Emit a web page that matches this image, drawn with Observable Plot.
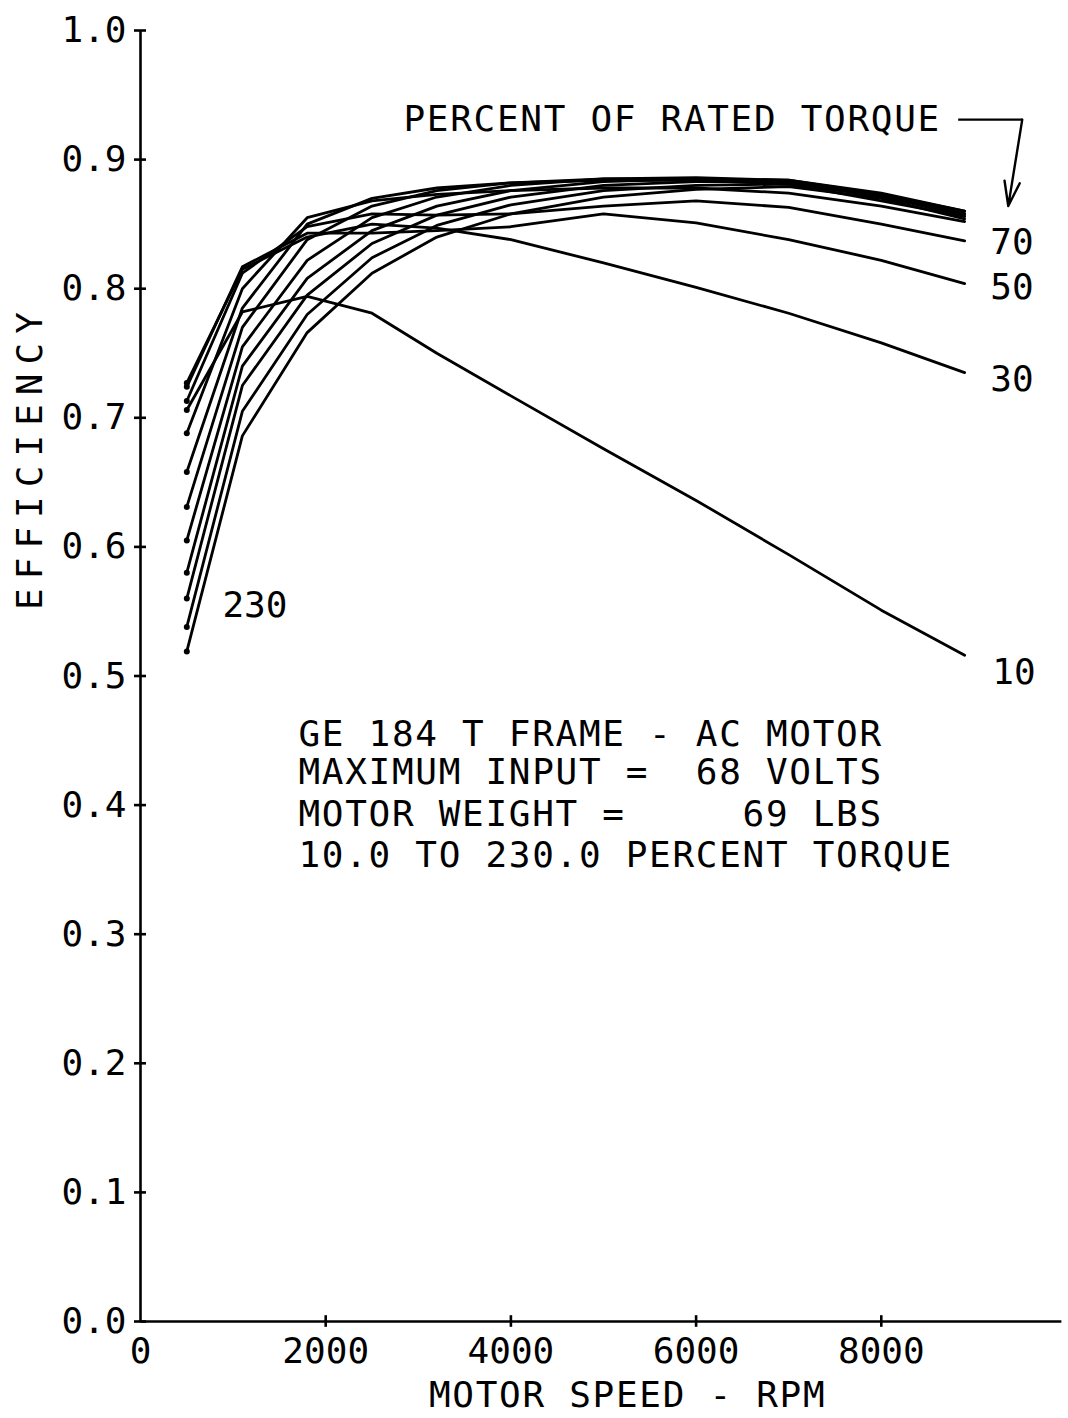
<!DOCTYPE html>
<html>
<head>
<meta charset="utf-8">
<script src="https://cdn.jsdelivr.net/npm/d3@7"></script>
<script src="https://cdn.jsdelivr.net/npm/@observablehq/plot@0.6"></script>
<style>
  html, body { margin: 0; padding: 0; background: #fff; }
  svg text { white-space: pre; }
  g[aria-description="spaced"] text { letter-spacing: 1.7px; }
  g[aria-description="ytitle"] text { letter-spacing: 9px; }
</style>
</head>
<body>
<div id="chart"></div>
<script>
// ---- data ----
const speeds = [500, 1100, 1800, 2500, 3200, 4000, 5000, 6000, 7000, 8000, 8900];
const torques = [10, 30, 50, 70, 90, 110, 130, 150, 170, 190, 210, 230];
const eff10  = [0.706, 0.782, 0.794, 0.781, 0.750, 0.717, 0.676, 0.636, 0.594, 0.551, 0.516];
const eff30  = [0.727, 0.815, 0.840, 0.850, 0.847, 0.838, 0.820, 0.801, 0.781, 0.758, 0.735];
const eff50  = [0.724, 0.817, 0.843, 0.843, 0.845, 0.848, 0.858, 0.851, 0.838, 0.822, 0.804];
const eff70  = [0.713, 0.812, 0.848, 0.858, 0.857, 0.858, 0.864, 0.868, 0.863, 0.850, 0.837];
const eff90  = [0.688, 0.800, 0.855, 0.868, 0.873, 0.876, 0.878, 0.878, 0.874, 0.864, 0.852];
const eff110 = [0.658, 0.785, 0.850, 0.870, 0.878, 0.882, 0.884, 0.884, 0.881, 0.868, 0.856];
const eff130 = [0.631, 0.770, 0.838, 0.864, 0.876, 0.882, 0.885, 0.885, 0.883, 0.871, 0.858];
const eff150 = [0.605, 0.755, 0.822, 0.855, 0.871, 0.880, 0.885, 0.886, 0.884, 0.873, 0.860];
const eff170 = [0.580, 0.740, 0.808, 0.845, 0.864, 0.876, 0.883, 0.885, 0.884, 0.874, 0.860];
const eff190 = [0.560, 0.725, 0.795, 0.835, 0.857, 0.871, 0.880, 0.883, 0.883, 0.873, 0.858];
const eff210 = [0.538, 0.705, 0.780, 0.824, 0.849, 0.865, 0.876, 0.880, 0.881, 0.872, 0.856];
const eff230 = [0.519, 0.686, 0.766, 0.812, 0.840, 0.858, 0.871, 0.877, 0.879, 0.870, 0.854];
const effSeries = [eff10, eff30, eff50, eff70, eff90, eff110, eff130, eff150, eff170, eff190, eff210, eff230];

const xTicks = [0, 2000, 4000, 6000, 8000];
const xTickLabels = ["0", "2000", "4000", "6000", "8000"];
const yTicks = [0, 0.1, 0.2, 0.3, 0.4, 0.5, 0.6, 0.7, 0.8, 0.9, 1.0];
const yTickLabels = ["0.0", "0.1", "0.2", "0.3", "0.4", "0.5", "0.6", "0.7", "0.8", "0.9", "1.0"];

const curveLabels = ["70", "50", "30", "10"];
const curveLabelX = [9177, 9177, 9177, 9198];
const curveLabelY = [0.836, 0.801, 0.730, 0.503];
const lowLabel = "230";
const lowLabelPos = [885, 0.555];

const infoLines = [
  "GE 184 T FRAME - AC MOTOR",
  "MAXIMUM INPUT =  68 VOLTS",
  "MOTOR WEIGHT =     69 LBS",
  "10.0 TO 230.0 PERCENT TORQUE"
];
const infoX = 1706;
const infoY = [0.455, 0.425, 0.393, 0.361];

const torqueTitle = "PERCENT OF RATED TORQUE";
const torqueTitlePos = [2839, 0.931];
const leaderLine = {x1: 8830, x2: 9522, y: 0.931};
const leaderArrow = {x1: 9522, y1: 0.931, x2: 9371, y2: 0.864};

const xTitle = "MOTOR SPEED - RPM";
const xTitlePos = 5260;
const yTitle = "EFFICIENCY";

// ---- build table ----
const rows = [];
torques.forEach((t, i) => {
  speeds.forEach((s, j) => rows.push({torque: t, rpm: s, eff: effSeries[i][j]}));
});
const firstPts = rows.filter(d => d.rpm === speeds[0]);

const font = "DejaVu Sans Mono";
const fs = 36;

const chart = Plot.plot({
  width: 1068,
  height: 1418,
  marginLeft: 140,
  marginRight: 2,
  marginTop: 30,
  marginBottom: 97,
  style: {fontFamily: font, background: "#fff", color: "#000"},
  x: {domain: [0, 10000], axis: null},
  y: {domain: [0, 1], axis: null},
  marks: [
    // axes
    Plot.ruleX([0], {y1: 0, y2: 1, stroke: "#000", strokeWidth: 2.6}),
    Plot.ruleY([0], {x1: 0, x2: 9950, stroke: "#000", strokeWidth: 2.6}),
    Plot.ruleY(yTicks, {x1: -65, x2: 65, stroke: "#000", strokeWidth: 2.6}),
    Plot.ruleX(xTicks.filter(d => d > 0), {y1: -0.0045, y2: 0.0045, stroke: "#000", strokeWidth: 2.6}),
    Plot.text(yTicks, {x: 0, y: d => d, text: (d, i) => yTickLabels[i], dx: -14, textAnchor: "end", fontSize: fs, fill: "#000"}),
    Plot.text(xTicks, {x: d => d, y: 0, text: (d, i) => xTickLabels[i], dy: 30, fontSize: fs, fill: "#000"}),
    Plot.text([xTitle], {x: xTitlePos, y: 0, dy: 74, text: d => d, fontSize: fs, fill: "#000", ariaDescription: "spaced"}),
    Plot.text([yTitle], {x: 0, y: 0.67, dx: -110, text: d => d, rotate: -90, fontSize: fs, fill: "#000", ariaDescription: "ytitle"}),
    // curves
    Plot.line(rows, {x: "rpm", y: "eff", z: "torque", stroke: "#000", strokeWidth: 2.8}),
    Plot.dot(firstPts, {x: "rpm", y: "eff", r: 3, fill: "#000"}),
    // annotations
    Plot.text(curveLabels, {x: (d, i) => curveLabelX[i], y: (d, i) => curveLabelY[i], text: d => d, textAnchor: "start", fontSize: fs, fill: "#000"}),
    Plot.text([lowLabel], {x: lowLabelPos[0], y: lowLabelPos[1], text: d => d, textAnchor: "start", fontSize: fs, fill: "#000"}),
    Plot.text(infoLines, {x: infoX, y: (d, i) => infoY[i], text: d => d, textAnchor: "start", fontSize: fs, fill: "#000", ariaDescription: "spaced"}),
    Plot.text([torqueTitle], {x: torqueTitlePos[0], y: torqueTitlePos[1], text: d => d, textAnchor: "start", fontSize: fs, fill: "#000", ariaDescription: "spaced"}),
    Plot.link([leaderLine], {x1: "x1", x2: "x2", y1: "y", y2: "y", stroke: "#000", strokeWidth: 2.4}),
    Plot.arrow([leaderArrow], {x1: "x1", y1: "y1", x2: "x2", y2: "y2", stroke: "#000", strokeWidth: 2.4, headLength: 16, headAngle: 35})
  ]
});
document.getElementById("chart").appendChild(chart);
</script>
</body>
</html>
